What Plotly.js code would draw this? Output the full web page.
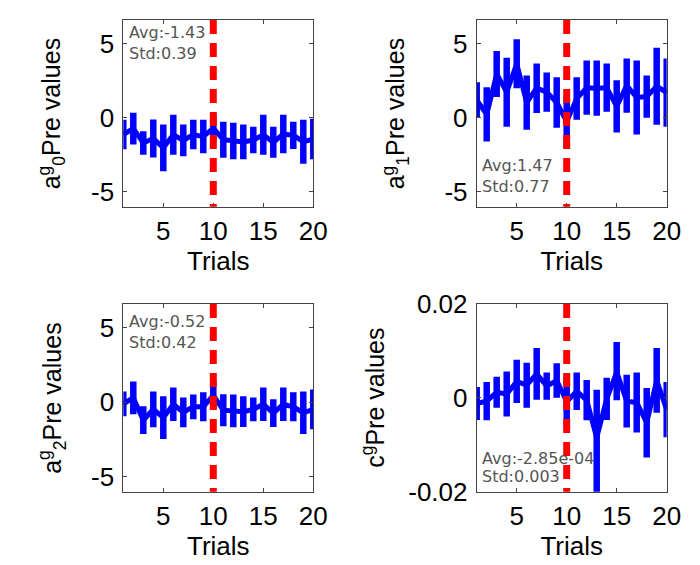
<!DOCTYPE html>
<html>
<head>
<meta charset="utf-8">
<script src="https://cdn.plot.ly/plotly-3.0.1.min.js"></script>
<style>html,body{margin:0;padding:0;background:#fff;}#chart{width:700px;height:565px;}</style>
</head>
<body>
<div id="chart"></div>
<script>
// ---- data ----
const trials = [1,2,3,4,5,6,7,8,9,10,11,12,13,14,15,16,17,18,19,20];

const a0Mean  = [-1.13,-0.73,-1.70,-1.40,-2.03,-1.15,-1.53,-1.13,-1.27,-0.70,-1.48,-1.57,-1.63,-1.50,-1.15,-1.65,-1.10,-1.18,-1.62,-1.43];
const a0Up    = [1.00,1.07,0.80,1.28,1.57,1.35,1.07,1.00,1.13,0.90,1.22,1.23,1.17,0.90,1.35,1.05,1.30,0.92,1.48,1.37];
const a0Down  = [1.00,1.07,0.80,1.28,1.57,1.35,1.07,1.00,1.13,0.90,1.22,1.23,1.17,0.90,1.35,1.05,1.30,0.92,1.48,1.37];

const a1Mean  = [1.20,0.23,2.95,1.73,3.65,1.03,2.00,1.73,1.03,-0.25,1.30,2.03,2.00,2.03,0.77,2.17,1.37,1.43,2.13,1.70];
const a1Up    = [1.20,1.83,1.55,2.33,1.65,1.83,1.67,1.33,1.70,1.75,1.43,1.83,1.87,1.63,1.77,1.83,2.50,1.43,2.60,2.30];
const a1Down  = [1.20,1.83,1.55,2.33,1.65,1.83,1.67,1.33,1.70,1.75,1.43,1.83,1.87,1.63,1.77,1.83,2.50,1.43,2.60,2.30];

const a2Mean  = [-0.10,0.30,-1.20,-0.47,-1.03,-0.13,-0.67,-0.30,-0.30,0.47,-0.53,-0.57,-0.63,-0.47,-0.13,-0.73,-0.13,-0.30,-0.70,-0.47];
const a2Up    = [0.83,1.10,0.93,1.20,1.43,1.13,1.00,0.83,0.97,0.93,1.07,1.10,1.03,0.80,1.13,0.93,1.13,0.97,1.43,1.33];
const a2Down  = [0.83,1.10,0.93,1.20,1.43,1.13,1.00,0.83,0.97,0.93,1.07,1.10,1.03,0.80,1.13,0.93,1.13,0.97,1.43,1.33];

const cMean   = [-0.0012,-0.0007,0.0012,0.0008,0.0035,0.0027,0.0051,0.0025,0.0037,-0.0008,0.0014,-0.0005,-0.0085,-0.0002,0.0055,-0.0007,-0.0010,-0.0053,0.0037,-0.0025];
const cUp     = [0.0035,0.0041,0.0033,0.0048,0.0046,0.0048,0.0055,0.0029,0.0037,0.0053,0.0040,0.0043,0.0102,0.0045,0.0064,0.0056,0.0064,0.0074,0.0069,0.0059];
const cDown   = [0.0035,0.0041,0.0033,0.0048,0.0046,0.0048,0.0055,0.0029,0.0037,0.0053,0.0040,0.0043,0.0150,0.0045,0.0060,0.0056,0.0064,0.0074,0.0069,0.0059];

const yTitles = ["a<sup>g</sup><sub>0</sub>Pre values","a<sup>g</sup><sub>1</sub>Pre values","a<sup>g</sup><sub>2</sub>Pre values","c<sup>g</sup>Pre values"];
const avgText = ["Avg:-1.43","Avg:1.47","Avg:-0.52","Avg:-2.85e-04"];
const stdText = ["Std:0.39","Std:0.77","Std:0.42","Std:0.003"];
const markerTrial = 10;

const xTickVals = [5,10,15,20];
const xTickText = ["5","10","15","20"];
const yTickVals = [-5,0,5];
const yTickText = ["-5","0","5"];
const cTickVals = [-0.02,0,0.02];
const cTickText = ["-0.02","0","0.02"];

// ---- layout geometry (pixels) ----
const W = 700, H = 565;
const cols = [[123.3,313.3],[476.7,666.7]];
const rows = [[20,206.7],[304,491.7]];
const px = v => v / W;
const py = v => 1 - v / H;

const series = [
  {m:a0Mean,u:a0Up,d:a0Down},
  {m:a1Mean,u:a1Up,d:a1Down},
  {m:a2Mean,u:a2Up,d:a2Down},
  {m:cMean,u:cUp,d:cDown}
];

const font = "Liberation Sans, Arial, sans-serif";
const traces = [];
const layout = {
  width: W, height: H,
  margin: {l:0,r:0,t:0,b:0},
  paper_bgcolor: "#ffffff",
  plot_bgcolor: "#ffffff",
  showlegend: false,
  shapes: [],
  annotations: []
};

const yTitleX = [52, 396, 52, 373];
const avgPos = [[127,32],[480,165.5],[127,321.7],[480,458]];
const stdPos = [[127,53],[480,186],[127,342.5],[480,476]];

for (let i = 0; i < 4; i++) {
  const col = cols[i % 2], row = rows[Math.floor(i / 2)];
  const n = i + 1;
  const xa = n === 1 ? "x" : "x" + n;
  const ya = n === 1 ? "y" : "y" + n;
  const xk = n === 1 ? "xaxis" : "xaxis" + n;
  const yk = n === 1 ? "yaxis" : "yaxis" + n;
  const s = series[i];
  traces.push({
    type: "scatter", mode: "lines",
    x: trials, y: s.m,
    xaxis: xa, yaxis: ya,
    line: {color: "#0000ff", width: 5},
    error_y: {type: "data", symmetric: false, array: s.u, arrayminus: s.d,
              color: "#0000ff", thickness: 6.5, width: 0},
    hoverinfo: "skip"
  });
  const isC = i === 3;
  layout[xk] = {
    domain: [px(col[0]), px(col[1])],
    anchor: ya,
    range: [1, 20],
    tickvals: xTickVals, ticktext: xTickText,
    ticks: "inside", ticklen: 4, tickcolor: "#444",
    showline: true, linecolor: "#444", linewidth: 1, mirror: "ticks",
    showgrid: false, zeroline: false,
    tickfont: {family: font, size: 26, color: "#000"},
    ticklabelstandoff: 1,
    title: {text: "Trials", font: {family: font, size: 26, color: "#000"}, standoff: 2}
  };
  layout[yk] = {
    domain: [py(row[1]), py(row[0])],
    anchor: xa,
    range: isC ? [-0.02, 0.02] : [-6, 6.6],
    tickvals: isC ? cTickVals : yTickVals,
    ticktext: isC ? cTickText : yTickText,
    ticks: "inside", ticklen: 4, tickcolor: "#444",
    showline: true, linecolor: "#444", linewidth: 1, mirror: "ticks",
    showgrid: false, zeroline: false,
    tickfont: {family: font, size: 26, color: "#000"},
    ticklabelstandoff: 3
  };
  layout.shapes.push({
    type: "line", xref: xa, yref: ya + " domain",
    x0: markerTrial, x1: markerTrial, y0: 1, y1: 0,
    line: {color: "#ff0000", width: 7, dash: "14px,9px"},
    layer: "above"
  });
  layout.annotations.push({
    xref: "paper", yref: "paper",
    x: px(yTitleX[i]), y: py((row[0] + row[1]) / 2),
    xanchor: "center", yanchor: "middle",
    text: yTitles[i], textangle: -90, showarrow: false,
    font: {family: font, size: 25, color: "#000"}
  });
  layout.annotations.push({
    xref: "paper", yref: "paper",
    x: px(avgPos[i][0]), y: py(avgPos[i][1]),
    xanchor: "left", yanchor: "middle",
    text: avgText[i], showarrow: false,
    font: {family: "DejaVu Sans, sans-serif", size: 16, color: "#555"}
  });
  layout.annotations.push({
    xref: "paper", yref: "paper",
    x: px(stdPos[i][0]), y: py(stdPos[i][1]),
    xanchor: "left", yanchor: "middle",
    text: stdText[i], showarrow: false,
    font: {family: "DejaVu Sans, sans-serif", size: 16, color: "#555"}
  });
}

Plotly.newPlot("chart", traces, layout, {staticPlot: true, displayModeBar: false});
</script>
</body>
</html>
